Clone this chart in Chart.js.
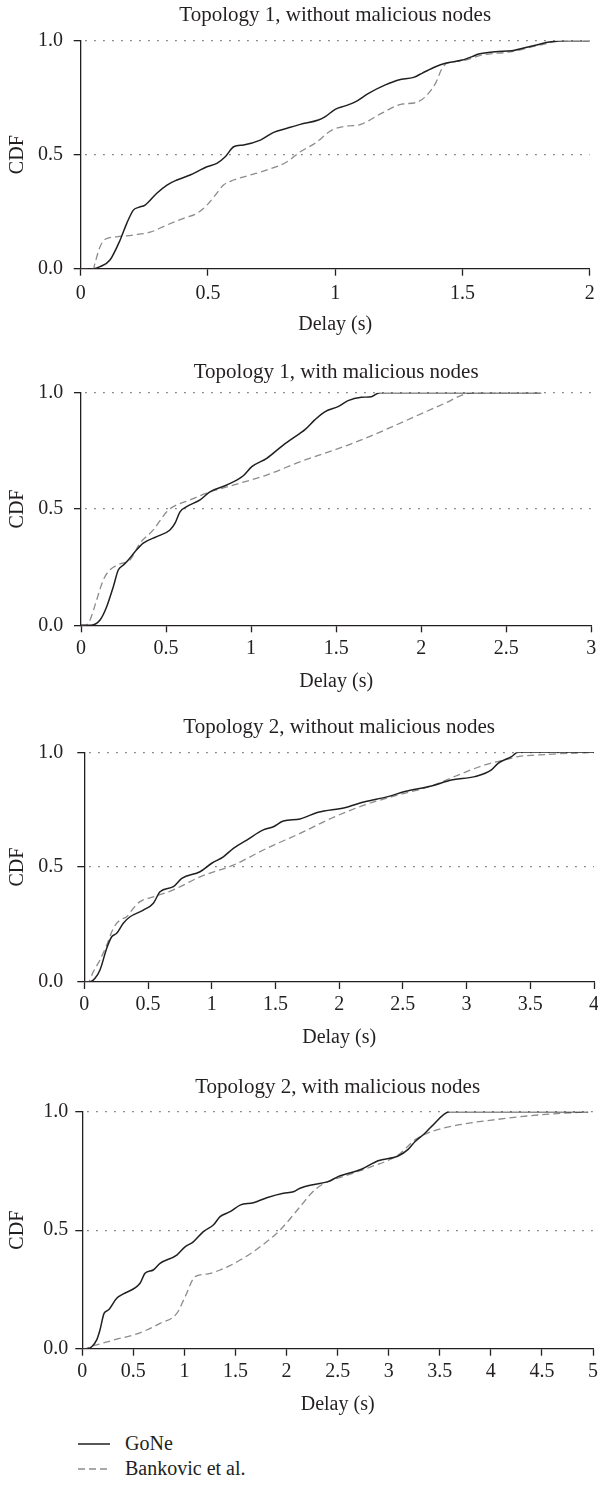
<!DOCTYPE html>
<html>
<head>
<meta charset="utf-8">
<title>CDF of delay</title>
<script src="https://cdn.jsdelivr.net/npm/chart.js@4.4.1/dist/chart.umd.min.js"></script>
<style>
  html, body { margin: 0; padding: 0; background: #fff; }
  body {
    width: 598px; height: 1486px; position: relative; overflow: hidden;
    font-family: "Liberation Serif", "DejaVu Serif", serif; color: #231f20;
  }
  canvas { position: absolute; left: 0; }
  #legend { position: absolute; left: 78px; top: 1431px; font-size: 20px; }
  #legend .item { display: flex; align-items: center; height: 25px; }
  #legend svg { margin-right: 15px; }
</style>
</head>
<body>
<canvas id="c0"></canvas>
<canvas id="c1"></canvas>
<canvas id="c2"></canvas>
<canvas id="c3"></canvas>
<div id="legend"></div>
<script>
// ---- data ----
const titles = [
  "Topology 1, without malicious nodes",
  "Topology 1, with malicious nodes",
  "Topology 2, without malicious nodes",
  "Topology 2, with malicious nodes"
];
const xMaxes = [2, 3, 4, 5];
const seriesLabels = ["GoNe", "Bankovic et al."];
const xTitle = "Delay (s)";
const yTitle = "CDF";

// topology 1, without malicious nodes
const gone1X = [0, 0.05, 0.076, 0.115, 0.155, 0.181, 0.207, 0.227, 0.253, 0.299, 0.339, 0.378, 0.43, 0.496, 0.535, 0.568, 0.601, 0.64, 0.706, 0.758, 0.811, 0.863, 0.934, 0.961, 1.0, 1.039, 1.079, 1.131, 1.197, 1.249, 1.308, 1.341, 1.394, 1.433, 1.499, 1.538, 1.564, 1.63, 1.695, 1.774, 1.853, 1.906, 2.0];
const gone1Y = [0, 0, 0.009, 0.038, 0.126, 0.199, 0.257, 0.269, 0.279, 0.331, 0.367, 0.389, 0.411, 0.447, 0.462, 0.491, 0.535, 0.543, 0.564, 0.598, 0.616, 0.633, 0.652, 0.667, 0.699, 0.714, 0.732, 0.769, 0.806, 0.828, 0.839, 0.857, 0.886, 0.901, 0.915, 0.93, 0.942, 0.952, 0.956, 0.977, 0.996, 1, 1];
const bank1X = [0, 0.05, 0.056, 0.076, 0.096, 0.142, 0.207, 0.273, 0.339, 0.404, 0.457, 0.496, 0.529, 0.561, 0.601, 0.667, 0.732, 0.811, 0.863, 0.921, 0.987, 1.052, 1.092, 1.183, 1.262, 1.315, 1.354, 1.394, 1.42, 1.439, 1.499, 1.577, 1.695, 1.8, 1.906, 2.0];
const bank1Y = [0, 0, 0.024, 0.096, 0.129, 0.14, 0.148, 0.16, 0.192, 0.221, 0.243, 0.279, 0.323, 0.367, 0.389, 0.411, 0.433, 0.469, 0.513, 0.55, 0.608, 0.626, 0.63, 0.682, 0.722, 0.728, 0.754, 0.813, 0.879, 0.901, 0.912, 0.937, 0.952, 0.98, 1, 1];

// topology 1, with malicious nodes
const gone2X = [0, 0.053, 0.112, 0.151, 0.19, 0.219, 0.249, 0.278, 0.317, 0.366, 0.445, 0.523, 0.553, 0.582, 0.621, 0.7, 0.758, 0.857, 0.954, 1.004, 1.092, 1.189, 1.287, 1.315, 1.374, 1.433, 1.511, 1.57, 1.648, 1.707, 1.756, 2.706];
const gone2Y = [0, 0, 0.023, 0.08, 0.166, 0.238, 0.259, 0.281, 0.316, 0.353, 0.381, 0.41, 0.439, 0.488, 0.51, 0.539, 0.574, 0.603, 0.643, 0.682, 0.718, 0.775, 0.825, 0.84, 0.883, 0.918, 0.94, 0.966, 0.98, 0.983, 1, 1];
const bank2X = [0, 0.025, 0.053, 0.092, 0.131, 0.17, 0.229, 0.288, 0.347, 0.425, 0.504, 0.543, 0.641, 0.739, 0.895, 1.092, 1.287, 1.57, 1.765, 1.962, 2.138, 2.275, 2.37, 2.706];
const bank2Y = [0, 0, 0.023, 0.109, 0.195, 0.238, 0.264, 0.281, 0.353, 0.41, 0.488, 0.51, 0.539, 0.568, 0.603, 0.646, 0.703, 0.775, 0.833, 0.897, 0.954, 0.997, 1, 1];

// topology 2, without malicious nodes
const gone3X = [0, 0.04, 0.084, 0.123, 0.176, 0.215, 0.254, 0.306, 0.359, 0.463, 0.542, 0.594, 0.699, 0.765, 0.908, 1.0, 1.091, 1.17, 1.275, 1.405, 1.484, 1.562, 1.693, 1.834, 2.044, 2.201, 2.384, 2.515, 2.724, 2.881, 3.064, 3.195, 3.247, 3.352, 3.404, 4.0];
const gone3Y = [0, 0, 0.016, 0.052, 0.147, 0.197, 0.212, 0.256, 0.284, 0.313, 0.343, 0.393, 0.415, 0.451, 0.48, 0.517, 0.545, 0.582, 0.618, 0.662, 0.676, 0.701, 0.71, 0.739, 0.759, 0.785, 0.807, 0.829, 0.853, 0.879, 0.894, 0.923, 0.952, 0.981, 1, 1];
const bank3X = [0, 0.03, 0.071, 0.123, 0.176, 0.228, 0.28, 0.333, 0.385, 0.437, 0.542, 0.699, 0.908, 1.17, 1.432, 1.693, 1.939, 2.201, 2.462, 2.724, 2.933, 3.143, 3.3, 3.404, 3.64, 4.0];
const bank3Y = [0, 0, 0.045, 0.096, 0.161, 0.234, 0.27, 0.284, 0.321, 0.35, 0.371, 0.401, 0.458, 0.509, 0.582, 0.647, 0.713, 0.771, 0.814, 0.853, 0.901, 0.945, 0.967, 0.981, 0.991, 1];

// topology 2, with malicious nodes
const gone4X = [0, 0.05, 0.092, 0.141, 0.173, 0.213, 0.255, 0.337, 0.402, 0.565, 0.614, 0.695, 0.761, 0.925, 1.006, 1.087, 1.185, 1.283, 1.349, 1.447, 1.545, 1.675, 1.806, 1.969, 2.067, 2.132, 2.243, 2.407, 2.504, 2.733, 2.896, 3.092, 3.19, 3.256, 3.354, 3.418, 3.598, 4.953];
const gone4Y = [0, 0, 0.008, 0.037, 0.079, 0.149, 0.163, 0.213, 0.231, 0.276, 0.318, 0.332, 0.36, 0.395, 0.43, 0.451, 0.494, 0.522, 0.557, 0.578, 0.606, 0.616, 0.637, 0.656, 0.662, 0.677, 0.691, 0.705, 0.726, 0.757, 0.793, 0.813, 0.841, 0.873, 0.909, 0.937, 1, 1];
const bank4X = [0, 0.03, 0.075, 0.173, 0.337, 0.5, 0.631, 0.761, 0.925, 1.006, 1.104, 1.218, 1.349, 1.545, 1.741, 1.937, 2.132, 2.243, 2.341, 2.602, 2.831, 3.092, 3.256, 3.418, 3.68, 4.072, 4.463, 4.953];
const bank4Y = [0, 0, 0.008, 0.02, 0.04, 0.058, 0.079, 0.107, 0.149, 0.219, 0.304, 0.315, 0.332, 0.374, 0.43, 0.501, 0.599, 0.656, 0.691, 0.733, 0.768, 0.817, 0.881, 0.916, 0.944, 0.968, 0.986, 1];

const goneX = [gone1X, gone2X, gone3X, gone4X];
const goneY = [gone1Y, gone2Y, gone3Y, gone4Y];
const bankX = [bank1X, bank2X, bank3X, bank4X];
const bankY = [bank1Y, bank2Y, bank3Y, bank4Y];

// ---- page layout (pixels) ----
const panels = [
  { top: 0,    titleY: 15,    plotTop: 40.7,   plotBottom: 268.7,  left: 80.7, right: 589.7, yPad: 10.7, xPad: 6 },
  { top: 358,  titleY: 372.7, plotTop: 392.7,  plotBottom: 625.3,  left: 81,   right: 591.3, yPad: 10.7, xPad: 4 },
  { top: 712,  titleY: 727,   plotTop: 752.3,  plotBottom: 982,    left: 84.3, right: 594,   yPad: 14,   xPad: 4 },
  { top: 1072, titleY: 1087,  plotTop: 1111.7, plotBottom: 1348.7, left: 82.3, right: 593,   yPad: 7,    xPad: 4 }
];

const INK = "#231f20";
const GREY = "#8c8c8c";
const FAMILY = "'Liberation Serif', 'DejaVu Serif', serif";
const FONT = { family: FAMILY, size: 20, weight: "normal", lineHeight: 1.2 };
const TITLE_FONT = { family: FAMILY, size: 21, weight: "normal", lineHeight: 1.2 };
const HALF_LINE = FONT.size * FONT.lineHeight / 2;
const HALF_TITLE = TITLE_FONT.size * TITLE_FONT.lineHeight / 2;

function toPoints(xs, ys) {
  return xs.map((x, i) => ({ x: x, y: ys[i] }));
}

const charts = panels.map((p, i) => {
  const canvas = document.getElementById("c" + i);
  const plotH = p.plotBottom - p.top;
  const height = Math.ceil(plotH + 72);
  const xAxisH = height - plotH;
  canvas.width = 598;
  canvas.height = height;
  canvas.style.top = p.top + "px";

  const titlePadTop = p.titleY - p.top - HALF_TITLE;
  const titlePadBottom = p.plotTop - p.top - titlePadTop - 2 * HALF_TITLE;

  return new Chart(canvas, {
    type: "line",
    data: {
      datasets: [
        {
          label: seriesLabels[0],
          data: toPoints(goneX[i], goneY[i]),
          borderColor: INK,
          borderWidth: 1.5,
          pointRadius: 0,
          cubicInterpolationMode: "monotone",
          fill: false
        },
        {
          label: seriesLabels[1],
          data: toPoints(bankX[i], bankY[i]),
          borderColor: GREY,
          borderWidth: 1.3,
          borderDash: [7, 4],
          pointRadius: 0,
          cubicInterpolationMode: "monotone",
          fill: false
        }
      ]
    },
    options: {
      responsive: false,
      animation: false,
      devicePixelRatio: 1,
      layout: { padding: { left: 0, top: 0, bottom: 0, right: 598 - p.right } },
      plugins: {
        legend: { display: false },
        tooltip: { enabled: false },
        title: {
          display: true,
          fullSize: false,
          text: titles[i],
          color: INK,
          font: TITLE_FONT,
          padding: { top: titlePadTop, bottom: titlePadBottom }
        }
      },
      scales: {
        x: {
          type: "linear",
          min: 0,
          max: xMaxes[i],
          ticks: {
            stepSize: 0.5, color: INK, font: FONT, padding: p.xPad, maxRotation: 0, autoSkip: false,
            callback: (v) => String(Math.round(v * 10) / 10)
          },
          grid: { drawOnChartArea: false, drawTicks: true, tickLength: 7, tickColor: INK, tickWidth: 1.3 },
          border: { color: INK, width: 1.3 },
          title: { display: true, text: xTitle, color: INK, font: FONT, padding: { top: 0, bottom: xAxisH - 56 - HALF_LINE } },
          afterFit: (s) => { s.height = xAxisH; s.paddingLeft = 0; s.paddingRight = 0; }
        },
        y: {
          min: 0,
          max: 1,
          ticks: { stepSize: 0.5, color: INK, font: FONT, padding: p.yPad, callback: (v) => v.toFixed(1) },
          grid: {
            color: (ctx) => (ctx.tick && ctx.tick.value === 0 ? "rgba(0,0,0,0)" : "#555"),
            lineWidth: 1.3,
            drawTicks: true,
            tickLength: 7,
            tickColor: INK,
            tickWidth: 1.3,
            tickBorderDash: []
          },
          border: { color: INK, width: 1.3, dash: [1.3, 7.7], dashOffset: -4 },
          title: { display: true, text: yTitle, color: INK, font: FONT, padding: { top: 17.5 - HALF_LINE, bottom: 0 } },
          afterFit: (s) => { s.width = p.left; }
        }
      }
    }
  });
});

// legend under the last panel, built from its datasets
const legend = document.getElementById("legend");
charts[3].data.datasets.forEach((ds) => {
  const row = document.createElement("div");
  row.className = "item";
  const dash = ds.borderDash ? ds.borderDash.join(",") : "none";
  row.innerHTML =
    '<svg width="32" height="4"><line x1="0" y1="2" x2="32" y2="2" stroke="' + ds.borderColor +
    '" stroke-width="' + ds.borderWidth + '" stroke-dasharray="' + dash + '"/></svg>';
  const label = document.createElement("span");
  label.textContent = ds.label;
  row.appendChild(label);
  legend.appendChild(row);
});
</script>
</body>
</html>
